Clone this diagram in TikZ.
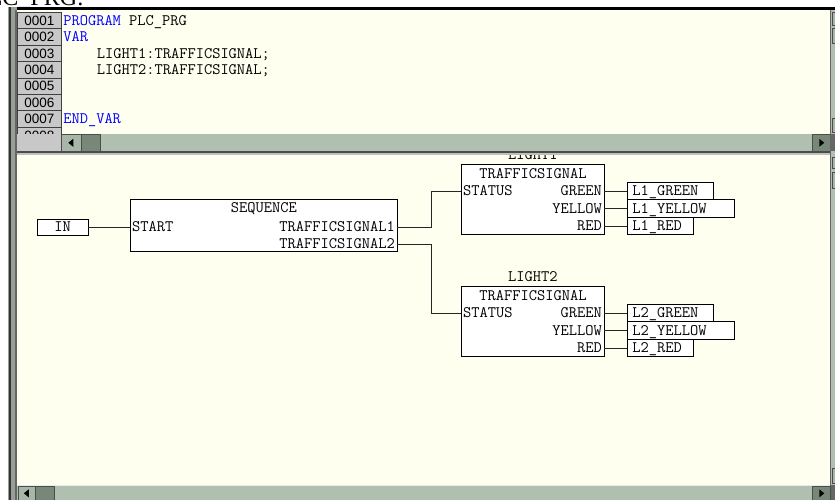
\documentclass[tikz,border=0pt]{standalone}
\usepackage{fontspec}
\usepackage{xcolor}
\usepackage{tikz}
\usetikzlibrary{positioning, calc}
\newfontfamily\titlefont{Liberation Serif}
\newfontfamily\numfont{Liberation Sans}
\newcommand{\plcfont}{\ttfamily\fontsize{16}{16}\selectfont}
\definecolor{panebg}{RGB}{255,255,240}
\definecolor{sbtrack}{RGB}{176,192,176}
\definecolor{sbbutton}{RGB}{168,182,168}
\definecolor{sbthumb}{RGB}{120,136,120}
\definecolor{cellgrey}{RGB}{200,200,200}
\definecolor{kwblue}{RGB}{0,0,255}
\definecolor{framegrey}{RGB}{150,160,150}

\begin{document}
\begin{tikzpicture}[x=1pt, y=-1pt,
  fb/.style={rectangle, draw=black, fill=white, line width=0.9pt, inner sep=0pt,
             anchor=north west},
  pin/.style={font=\plcfont, inner sep=2pt, text height=9.5pt, text depth=0pt},
  var/.style={rectangle, draw=black, fill=white, line width=0.9pt, font=\plcfont,
              anchor=west, minimum height=17.5pt, inner xsep=5pt, inner ysep=0pt,
              text height=9.5pt, text depth=0pt, align=left, text width=#1},
  wire/.style={draw=black!85, line width=0.9pt},
  lnum/.style={rectangle, draw=black!75, fill=cellgrey, line width=0.6pt,
               minimum width=44pt, minimum height=16.4pt, inner sep=0pt,
               anchor=north west, font=\numfont\fontsize{13.5}{13.5}\selectfont,
               text height=9.7pt, text depth=0pt},
  code/.style={anchor=west, inner sep=0pt, font=\plcfont, text height=9.5pt,
               text depth=0pt},
  sbtn/.style={rectangle, draw=black!70, fill=sbbutton, line width=0.6pt,
               inner sep=0pt, anchor=north west}
]
\useasboundingbox (0,0) rectangle (835,500);
\fill[white] (0,0) rectangle (835,500);

% window caption, cut off at the top
\begin{scope}
  \clip (0,0) rectangle (835,7.5);
  \node[anchor=base east, inner sep=0pt, font=\titlefont\fontsize{24}{24}\selectfont]
    (caption) at (84,5.5) {PLC\_PRG:};
\end{scope}

% frame
\fill[black] (8,7.5) rectangle (835,10);
\fill[framegrey] (8,7.5) rectangle (17,500);
\fill[black!80] (9,7.5) rectangle (11,500);
\fill[black!60] (15,10) rectangle (17,500);

% declaration pane
\fill[panebg] (17,10) rectangle (830,134);
\foreach \i in {1,...,8}
  \node[lnum] (ln\i) at (17,{12+(\i-1)*16.4}) {000\i};
\node[code] (code1) at ($(ln1.east)+(1.5,0)$) {\textcolor{kwblue}{PROGRAM} PLC\_PRG};
\node[code, kwblue] (code2) at ($(ln2.east)+(1.5,0)$) {VAR};
\node[code] (code3) at ($(ln3.east)+(35.1,0)$) {LIGHT1:TRAFFICSIGNAL;};
\node[code] (code4) at ($(ln4.east)+(35.1,0)$) {LIGHT2:TRAFFICSIGNAL;};
\node[code, kwblue] (code7) at ($(ln7.east)+(1.5,0)$) {END\_VAR};

% upper horizontal scrollbar
\fill[sbtrack] (17,134) rectangle (830,151);
\fill[cellgrey] (17,134) rectangle (61,151);
\node[sbtn, minimum width=20pt, minimum height=16pt] (hleft1) at (61,134.5) {};
\fill[black] ($(hleft1.center)+(-3,0)$) -- ++(5,-4) -- ++(0,8) -- cycle;
\node[sbtn, fill=sbthumb, minimum width=19pt, minimum height=16pt] (hthumb1) at (81,134.5) {};
\node[sbtn, fill=sbthumb, minimum width=18pt, minimum height=16pt] (hright1) at (812,134.5) {};
\fill[black] ($(hright1.center)+(3,0)$) -- ++(-5,-4) -- ++(0,8) -- cycle;
\fill[black!70] (17,151) rectangle (835,153);
\fill[black!25] (17,153) rectangle (835,155);

% right vertical scrollbar
\fill[sbtrack] (830,10) rectangle (835,500);
\draw[black!60, line width=0.6pt] (830.5,10) -- (830.5,500);
\node[sbtn, minimum width=8pt, minimum height=13pt] (vup1) at (832,12) {};
\node[sbtn, minimum width=8pt, minimum height=15pt] (vthumb1) at (832,28) {};
\node[sbtn, minimum width=8pt, minimum height=14pt] (vdown1) at (832,118) {};
\fill[black!60] (830,134) rectangle (835,151);
\node[sbtn, minimum width=8pt, minimum height=11pt] (vup2) at (832,157) {};
\node[sbtn, minimum width=8pt, minimum height=16pt] (vthumb2) at (832,172) {};
\node[sbtn, minimum width=8pt, minimum height=15pt] (vdown2) at (832,468) {};
\fill[black!60] (830,485) rectangle (835,500);

% CFC pane
\fill[panebg] (17,155) rectangle (830,485);

% lower horizontal scrollbar
\fill[sbtrack] (17,485) rectangle (830,500);
\draw[white!70!sbtrack, line width=0.8pt] (17,485.5) -- (830,485.5);
\node[sbtn, minimum width=17pt, minimum height=14pt] (hleft2) at (18,486) {};
\fill[black] ($(hleft2.center)+(-3,0)$) -- ++(5,-4) -- ++(0,8) -- cycle;
\node[sbtn, fill=sbthumb, minimum width=19pt, minimum height=14pt] (hthumb2) at (35,486) {};
\node[sbtn, fill=sbthumb, minimum width=18pt, minimum height=14pt] (hright2) at (812,486) {};
\fill[black] ($(hright2.center)+(3,0)$) -- ++(-5,-4) -- ++(0,8) -- cycle;

\begin{scope}
\clip (17,155) rectangle (830,485);

% input and SEQUENCE block
\node[var=41pt, anchor=center, align=center, minimum height=16pt] (in) at (62.5,227) {IN};
\node[fb, minimum width=267pt, minimum height=52pt] (seq) at (130,199) {};
\node[pin] (seqtype) at ($(seq.north)+(0,9)$) {SEQUENCE};
\node[pin, anchor=west] (seqstart) at (130,227) {START};
\node[pin, anchor=east] (seqts1) at (397,227) {TRAFFICSIGNAL1};
\node[pin, anchor=east] (seqts2) at (397,244) {TRAFFICSIGNAL2};
\draw[wire] (in.east) -- (seqstart.west);

% LIGHT1
\node[fb, minimum width=143pt, minimum height=70pt] (light1) at (461,164) {};
\node[pin] (light1inst) at ($(light1.north)+(0,-9)$) {LIGHT1};
\node[pin] (light1type) at ($(light1.north)+(0,9.5)$) {TRAFFICSIGNAL};
\node[pin, anchor=west] (l1status) at (461,191) {STATUS};
\node[pin, anchor=east] (l1green) at (604,191) {GREEN};
\node[pin, anchor=east] (l1yellow) at (604,208.5) {YELLOW};
\node[pin, anchor=east] (l1red) at (604,226) {RED};
\node[var=76pt] (o1green) at (627,191) {L1\_GREEN};
\node[var=97pt] (o1yellow) at (627,208.5) {L1\_YELLOW};
\node[var=56pt] (o1red) at (627,226) {L1\_RED};
\draw[wire] (l1green.east) -- (o1green.west);
\draw[wire] (l1yellow.east) -- (o1yellow.west);
\draw[wire] (l1red.east) -- (o1red.west);

% LIGHT2
\node[fb, minimum width=143pt, minimum height=70pt] (light2) at (461,286) {};
\node[pin] (light2inst) at ($(light2.north)+(0,-9)$) {LIGHT2};
\node[pin] (light2type) at ($(light2.north)+(0,9.5)$) {TRAFFICSIGNAL};
\node[pin, anchor=west] (l2status) at (461,313) {STATUS};
\node[pin, anchor=east] (l2green) at (604,313) {GREEN};
\node[pin, anchor=east] (l2yellow) at (604,330.5) {YELLOW};
\node[pin, anchor=east] (l2red) at (604,348) {RED};
\node[var=76pt] (o2green) at (627,313) {L2\_GREEN};
\node[var=97pt] (o2yellow) at (627,330.5) {L2\_YELLOW};
\node[var=56pt] (o2red) at (627,348) {L2\_RED};
\draw[wire] (l2green.east) -- (o2green.west);
\draw[wire] (l2yellow.east) -- (o2yellow.west);
\draw[wire] (l2red.east) -- (o2red.west);

% connections SEQUENCE -> lights
\draw[wire] (seqts1.east) -- ++(34,0) |- (l1status.west);
\draw[wire] (seqts2.east) -- ++(34,0) |- (l2status.west);
\end{scope}
\end{tikzpicture}
\end{document}
